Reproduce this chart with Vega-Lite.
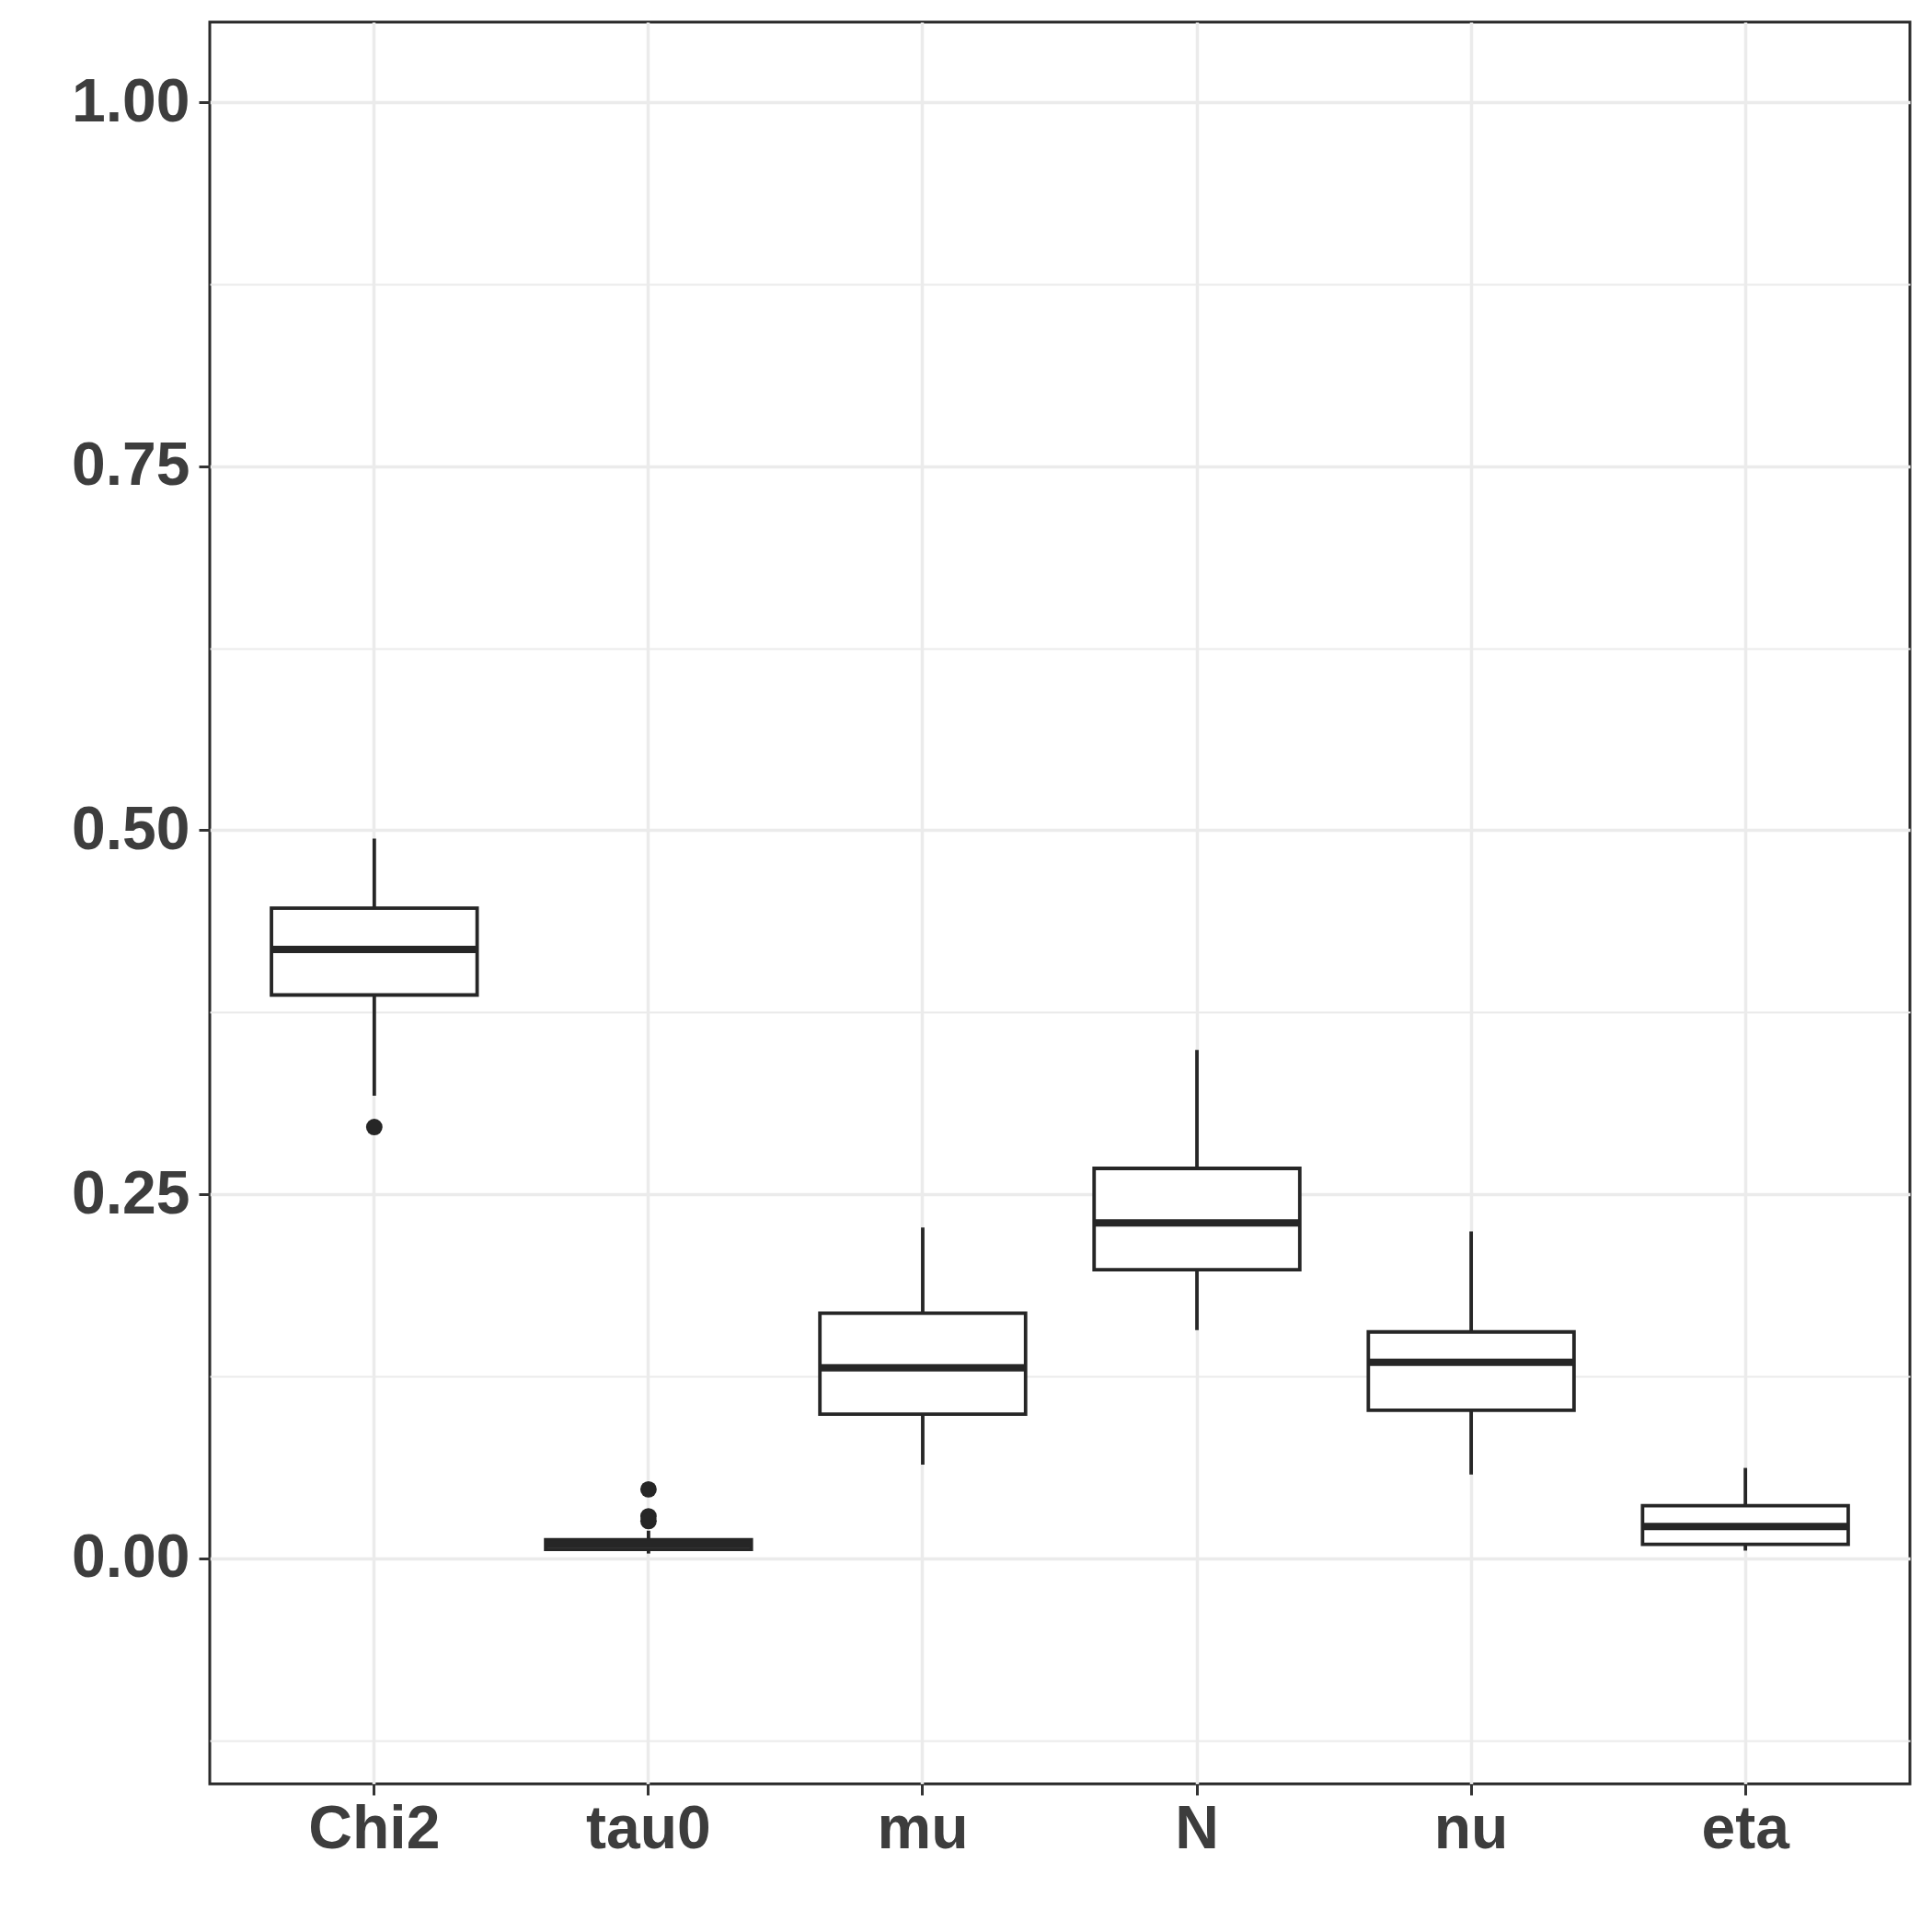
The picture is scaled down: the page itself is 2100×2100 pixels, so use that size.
{
  "$schema": "https://vega.github.io/schema/vega-lite/v6.json",
  "autosize": "none",
  "width": 1848,
  "height": 1915,
  "padding": {"left": 228, "top": 24, "right": 24, "bottom": 161},
  "background": "white",
  "config": {
    "view": {"stroke": "#2b2b2b", "strokeWidth": 3, "fill": "white"},
    "axis": {
      "labelFont": "Liberation Sans",
      "labelFontWeight": "bold",
      "labelFontSize": 66,
      "labelColor": "#3d3d3d",
      "tickColor": "#333333",
      "tickWidth": 3,
      "tickSize": 12,
      "domain": false,
      "gridColor": "#EBEBEB",
      "gridWidth": 3.5,
      "title": null
    }
  },
  "datasets": {
    "stats": [
      {"param": "Chi2", "lower": 0.3176, "q1": 0.3868, "median": 0.4181, "q3": 0.4465, "upper": 0.4942},
      {"param": "tau0", "lower": 0.0032, "q1": 0.0061, "median": 0.0094, "q3": 0.0127, "upper": 0.0189},
      {"param": "mu", "lower": 0.0642, "q1": 0.0989, "median": 0.1308, "q3": 0.1683, "upper": 0.2271},
      {"param": "N", "lower": 0.1567, "q1": 0.1981, "median": 0.2303, "q3": 0.2677, "upper": 0.3491},
      {"param": "nu", "lower": 0.0574, "q1": 0.1016, "median": 0.1346, "q3": 0.1554, "upper": 0.2244},
      {"param": "eta", "lower": 0.0052, "q1": 0.0095, "median": 0.0217, "q3": 0.0360, "upper": 0.0620}
    ],
    "outliers": [
      {"param": "Chi2", "value": 0.2961},
      {"param": "tau0", "value": 0.0473},
      {"param": "tau0", "value": 0.0288},
      {"param": "tau0", "value": 0.0255}
    ]
  },
  "resolve": {"axis": {"y": "independent"}},
  "layer": [
    {
      "data": {"name": "stats"},
      "mark": {"type": "rule", "color": "#262626", "strokeWidth": 3.8},
      "encoding": {
        "x": {
          "field": "param", "type": "nominal",
          "sort": ["Chi2", "tau0", "mu", "N", "nu", "eta"],
          "scale": {"type": "band", "paddingInner": 0.25, "paddingOuter": 0.225},
          "axis": {"labelAngle": 0, "labelPadding": 5, "grid": true, "bandPosition": 0.5}
        },
        "y": {
          "field": "lower", "type": "quantitative",
          "scale": {"domain": [-0.155, 1.055], "nice": false, "zero": false},
          "axis": {
            "values": [-0.125, 0.125, 0.375, 0.625, 0.875],
            "labels": false, "ticks": false, "grid": true, "gridWidth": 2, "gridColor": "#EBEBEB", "orient": "left"
          }
        },
        "y2": {"field": "upper"}
      }
    },
    {
      "data": {"name": "stats"},
      "mark": {"type": "bar", "fill": "white", "stroke": "#262626", "strokeWidth": 3.8},
      "encoding": {
        "x": {"field": "param", "type": "nominal", "sort": ["Chi2", "tau0", "mu", "N", "nu", "eta"]},
        "y": {
          "field": "q1", "type": "quantitative",
          "axis": {
            "values": [0, 0.25, 0.5, 0.75, 1],
            "format": ".2f", "labelPadding": 10, "grid": true, "orient": "left"
          }
        },
        "y2": {"field": "q3"}
      }
    },
    {
      "data": {"name": "stats"},
      "mark": {"type": "tick", "color": "#262626", "thickness": 8, "size": 224, "orient": "horizontal", "opacity": 1},
      "encoding": {
        "x": {"field": "param", "type": "nominal", "sort": ["Chi2", "tau0", "mu", "N", "nu", "eta"]},
        "y": {"field": "median", "type": "quantitative", "axis": null}
      }
    },
    {
      "data": {"name": "outliers"},
      "mark": {"type": "circle", "color": "#262626", "size": 320, "opacity": 1},
      "encoding": {
        "x": {"field": "param", "type": "nominal", "sort": ["Chi2", "tau0", "mu", "N", "nu", "eta"]},
        "y": {"field": "value", "type": "quantitative", "axis": null}
      }
    }
  ]
}
